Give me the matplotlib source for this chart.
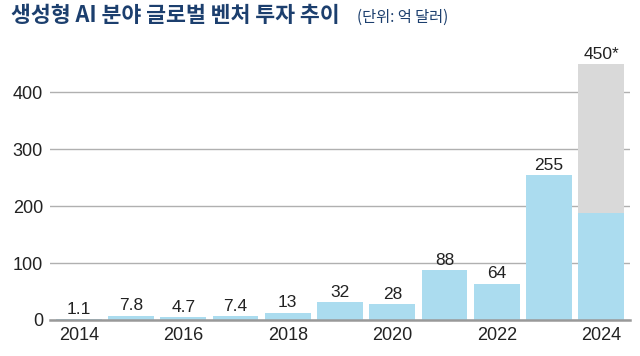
import matplotlib
matplotlib.use('Agg')
import matplotlib.pyplot as plt

plt.rcParams['font.family'] = ['Noto Sans CJK KR', 'DejaVu Sans']
NUM_FONT = ['Liberation Sans', 'DejaVu Sans']

YEARS = [2014, 2015, 2016, 2017, 2018, 2019, 2020, 2021, 2022, 2023, 2024]
VALUES = [1.1, 7.8, 4.7, 7.4, 13, 32, 28, 88, 64, 255, 450]
LABELS = ['1.1', '7.8', '4.7', '7.4', '13', '32', '28', '88', '64', '255', '450*']
# 2024년 막대의 파란 부분 (나머지는 회색 = 전망치)
BLUE_2024 = 188

XTICKS = [2014, 2016, 2018, 2020, 2022, 2024]
YTICKS = [0, 100, 200, 300, 400]

BLUE = '#abdcef'
GREY = '#d9d9d9'
NAVY = '#1c3f6e'

fig = plt.figure(figsize=(6.4, 3.56), dpi=100)
ax = fig.add_axes([50 / 640, 36 / 356, 580 / 640, 256 / 356])

blue_vals = VALUES[:-1] + [BLUE_2024]
ax.bar(YEARS[-1], VALUES[-1], width=0.88, color=GREY, zorder=2)
ax.bar(YEARS, blue_vals, width=0.88, color=BLUE, zorder=3)

for x, v, t in zip(YEARS, VALUES, LABELS):
    ax.text(x, v + 4, t, ha='center', va='bottom', fontsize=12.5,
            color='#222222', family=NUM_FONT)

ax.set_xlim(2013.45, 2024.55)
ax.set_ylim(0, 450)
ax.set_yticks(YTICKS)
ax.set_xticks(XTICKS)
ax.tick_params(length=0, labelsize=13, colors='#222222', pad=5)
for lab in ax.get_xticklabels() + ax.get_yticklabels():
    lab.set_family(NUM_FONT)
ax.grid(axis='y', color='#b0b0b0', linewidth=1, zorder=1)
for s in ['top', 'right', 'left']:
    ax.spines[s].set_visible(False)
ax.spines['bottom'].set_color('#999999')
ax.spines['bottom'].set_linewidth(1.8)
ax.spines['bottom'].set_zorder(4)

fig.text(11 / 640, 1 - 16 / 356, '생성형 AI 분야 글로벌 벤처 투자 추이', fontsize=15.6,
         fontweight='bold', color=NAVY, va='center', ha='left')
fig.text(357 / 640, 1 - 17 / 356, '(단위: 억 달러)', fontsize=11,
         color=NAVY, va='center', ha='left')

fig.savefig('out.png', dpi=100)
